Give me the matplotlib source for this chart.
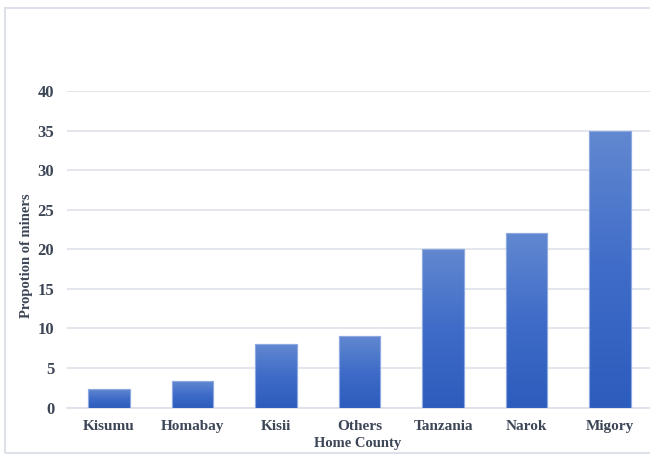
import matplotlib
matplotlib.use("Agg")
import matplotlib.pyplot as plt
import numpy as np
from matplotlib.colors import LinearSegmentedColormap
from matplotlib.patches import Rectangle

counties = ["Kisumu", "Homabay", "Kisii", "Others", "Tanzania", "Narok", "Migory"]
proportions = [2.3, 3.3, 8.0, 9.0, 20.0, 22.0, 35.0]
yticks = [0, 5, 10, 15, 20, 25, 30, 35, 40]

plt.rcParams['font.family'] = ['Liberation Serif', 'DejaVu Serif']
W, H = 650, 455
fig = plt.figure(figsize=(W / 100, H / 100), dpi=100)

# figure border
fig.patches.append(Rectangle((5 / W, 1 - 453 / H), 660 / W, (453 - 8) / H,
                             transform=fig.transFigure, fill=False,
                             edgecolor='#dde2ea', linewidth=1.5))

left, right, top, bottom = 67.25, 651.75, 91, 407.5
ax = fig.add_axes([left / W, 1 - bottom / H, (right - left) / W, (bottom - top) / H])

x = np.arange(len(counties))
bars = ax.bar(x, proportions, width=0.5, color='#4472c4',
              edgecolor='#8eaae0', linewidth=0.8, zorder=3)

cmap = LinearSegmentedColormap.from_list('g', ['#2c5cbd', '#3f6cc8', '#6188d0'])
grad = np.linspace(0, 1, 256).reshape(-1, 1)
for b in bars:
    bx, by, bw, bh = b.get_x(), b.get_y(), b.get_width(), b.get_height()
    im = ax.imshow(grad, extent=[bx, bx + bw, by, by + bh], origin='lower',
                   cmap=cmap, aspect='auto', zorder=3.5)
    im.set_clip_path(b)
    ax.add_patch(Rectangle((bx, by), bw, bh, fill=False, edgecolor='#8eaae0',
                           linewidth=0.8, zorder=4))

ax.set_xlim(-0.5, len(counties) - 0.5)
ax.set_ylim(0, 40)
ax.set_yticks(yticks)
ax.set_xticks(x)
ax.set_xticklabels(counties)
ax.grid(axis='y', color='#e1e4ec', linewidth=1.3, zorder=0)
ax.set_axisbelow(True)
for s in ['top', 'right', 'left']:
    ax.spines[s].set_visible(False)
ax.spines['bottom'].set_color('#dfe2ea')
ax.spines['bottom'].set_linewidth(1.3)
ax.tick_params(axis='x', length=0, labelcolor='#3d4656', labelsize=11, pad=9)
ax.tick_params(axis='y', length=0, labelcolor='#3d4656', labelsize=12, pad=9.4)
for lbl in ax.get_xticklabels() + ax.get_yticklabels():
    lbl.set_fontweight('bold')

ax.set_xlabel('Home County', fontsize=10.5, fontweight='bold', color='#3d4656', labelpad=0)
ax.set_ylabel('Propotion of miners', fontsize=10.5, fontweight='bold', color='#3d4656', labelpad=6)
ax.xaxis.set_label_coords((358 - left) / (right - left), -(437 - bottom) / (bottom - top))
ax.yaxis.set_label_coords(-(left - 33) / (right - left), (bottom - 256) / (bottom - top))

fig.savefig('out.png', dpi=100)
